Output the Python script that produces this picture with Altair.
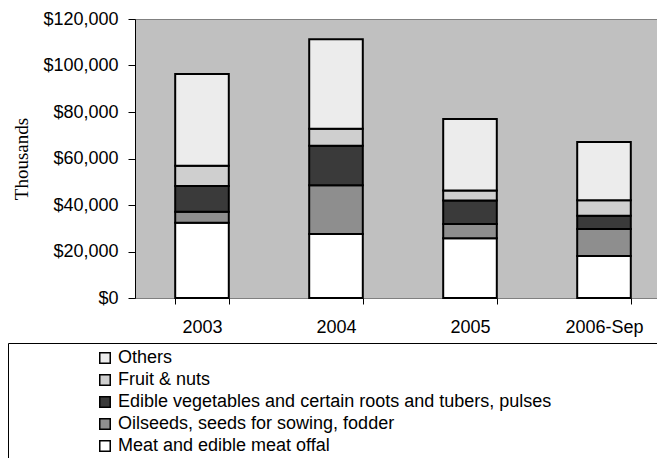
import altair as alt
import pandas as pd

years = ["2003", "2004", "2005", "2006-Sep"]
categories = [
    "Others",
    "Fruit & nuts",
    "Edible vegetables and certain roots and tubers, pulses",
    "Oilseeds, seeds for sowing, fodder",
    "Meat and edible meat offal",
]
# values in thousands of dollars (bottom-to-top stacking: meat first)
meat = [32400, 27500, 25700, 18100]
oilseeds = [4700, 21000, 6100, 11600]
vegetables = [11100, 17000, 10100, 5700]
fruit = [8700, 7300, 4300, 6600]
others = [39400, 38500, 30800, 25100]
y_ticks = [0, 20000, 40000, 60000, 80000, 100000, 120000]
fills = ["#ececec", "#cfcfcf", "#3a3a3a", "#8e8e8e", "#ffffff"]

series = {
    "Meat and edible meat offal": meat,
    "Oilseeds, seeds for sowing, fodder": oilseeds,
    "Edible vegetables and certain roots and tubers, pulses": vegetables,
    "Fruit & nuts": fruit,
    "Others": others,
}
rows = []
for rank, (name, vals) in enumerate(series.items()):
    for yr, v in zip(years, vals):
        rows.append({"year": yr, "category": name, "value": v, "rank": rank})
df = pd.DataFrame(rows)

font = "Liberation Sans"

chart = (
    alt.Chart(df)
    .mark_bar(stroke="black", strokeWidth=2)
    .encode(
        x=alt.X(
            "year:N",
            sort=years,
            title=None,
            scale=alt.Scale(paddingInner=0.6, paddingOuter=0.3, range=[0, 536]),
            axis=alt.Axis(
                labelAngle=0,
                tickBand="extent",
                tickSize=6,
                tickColor="black",
                domainColor="#808080",
                labelPadding=14,
                labelFont=font,
                labelFontSize=18,
                labelColor="black",
            ),
        ),
        y=alt.Y(
            "value:Q",
            stack="zero",
            title="Thousands",
            scale=alt.Scale(domain=[0, 120000], nice=False),
            axis=alt.Axis(
                values=y_ticks,
                format="$,.0f",
                grid=False,
                tickSize=7,
                tickColor="black",
                domainColor="black",
                labelPadding=10,
                labelFont=font,
                labelFontSize=18,
                labelColor="black",
                titleFont="Liberation Serif",
                titleFontSize=19,
                titleFontWeight="normal",
                titleColor="black",
                titlePadding=11,
            ),
        ),
        fill=alt.Fill(
            "category:N",
            scale=alt.Scale(domain=categories, range=fills),
            legend=alt.Legend(
                title="\u00a0",
                titleOrient="right",
                titlePadding=106,
                orient="none",
                legendX=-127,
                legendY=324,
                direction="vertical",
                padding=6,
                strokeColor="black",
                fillColor="white",
                symbolType="square",
                symbolSize=110,
                symbolStrokeColor="black",
                symbolStrokeWidth=1.5,
                symbolOffset=82,
                labelOffset=4,
                labelFont=font,
                labelFontSize=18,
                labelColor="black",
                labelLimit=600,
                rowPadding=4,
            ),
        ),
        order=alt.Order("rank:Q"),
    )
    .properties(
        width=522,
        height=279,
        autosize=alt.AutoSizeParams(type="none"),
        padding={"left": 127, "top": 11, "right": 0, "bottom": 160},
    )
    .configure_view(fill="#c0c0c0", stroke="#808080", strokeWidth=1)
)

chart.save("out.html", embed_options={"renderer": "svg", "actions": False})
